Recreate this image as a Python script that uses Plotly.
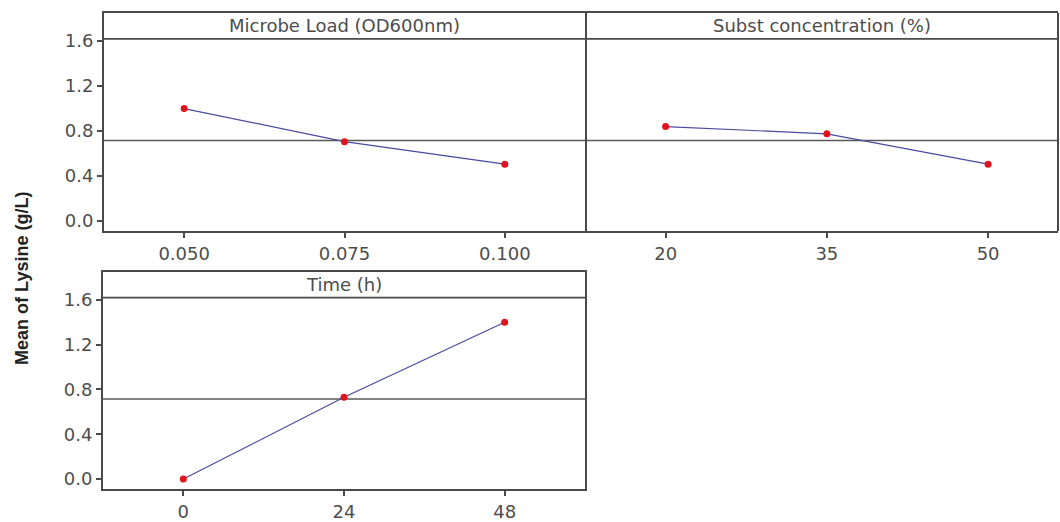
import plotly.graph_objects as go

# Main effects of three factors on mean lysine yield
microbe_levels = [0.050, 0.075, 0.100]
microbe_means = [1.00, 0.705, 0.505]

subst_levels = [20, 35, 50]
subst_means = [0.84, 0.775, 0.505]

time_levels = [0, 24, 48]
time_means = [0.0, 0.73, 1.40]

grand_mean = 0.715

panel_titles = ["Microbe Load (OD600nm)", "Subst concentration (%)", "Time (h)"]
y_ticks = [0.0, 0.4, 0.8, 1.2, 1.6]
y_tick_text = ["0.0", "0.4", "0.8", "1.2", "1.6"]

W, H = 1060, 522
LINE_COLOR = "#4a4aa0"
MARK_COLOR = "#e0141e"
FRAME = "#4a4a4a"
TEXT = "#4d4d4d"
FONT = "DejaVu Sans"
strip_y = 1.62
y_range = [-0.09, 1.85]


def px(x0, x1):
    return [x0 / W, x1 / W]


def py(top, bottom):
    return [1 - bottom / H, 1 - top / H]


panels = [
    dict(x=microbe_levels, y=microbe_means, xd=px(104, 585), yd=py(13, 232),
         xr=[0.0375, 0.1125], xt=microbe_levels, xl=["0.050", "0.075", "0.100"], ylab=True),
    dict(x=subst_levels, y=subst_means, xd=px(585, 1058), yd=py(13, 232),
         xr=[12.5, 56.5], xt=subst_levels, xl=["20", "35", "50"], ylab=False),
    dict(x=time_levels, y=time_means, xd=px(103, 585), yd=py(273, 491),
         xr=[-12, 60], xt=time_levels, xl=["0", "24", "48"], ylab=True),
]

fig = go.Figure()
layout = dict(
    width=W, height=H,
    margin=dict(l=0, r=0, t=0, b=0),
    paper_bgcolor="white", plot_bgcolor="white",
    showlegend=False,
    font=dict(family=FONT, color=TEXT, size=18),
)
shapes = []
annotations = []

for i, p in enumerate(panels, start=1):
    xa = "x" if i == 1 else f"x{i}"
    ya = "y" if i == 1 else f"y{i}"
    fig.add_trace(go.Scatter(
        x=p["x"], y=p["y"], xaxis=xa, yaxis=ya, mode="lines+markers",
        line=dict(color=LINE_COLOR, width=1.2),
        marker=dict(color=MARK_COLOR, size=7),
        cliponaxis=False,
    ))
    layout[f"xaxis{'' if i == 1 else i}"] = dict(
        domain=p["xd"], anchor=ya, range=p["xr"],
        tickmode="array", tickvals=p["xt"], ticktext=p["xl"],
        ticks="outside", ticklen=5, tickwidth=1.5, tickcolor=FRAME,
        showline=True, linecolor=FRAME, linewidth=2, mirror=True,
        showgrid=False, zeroline=False,
        tickfont=dict(size=18, color=TEXT, family=FONT),
    )
    # the right-hand panel shares its left edge with the panel beside it
    layout[f"yaxis{'' if i == 1 else i}"] = dict(
        domain=p["yd"], anchor=xa, range=y_range,
        tickmode="array", tickvals=y_ticks, ticktext=y_tick_text,
        ticks="outside" if p["ylab"] else "", ticklen=5, tickwidth=1.5, tickcolor=FRAME,
        showticklabels=p["ylab"],
        showline=p["ylab"], linecolor=FRAME, linewidth=2, mirror=True,
        showgrid=False, zeroline=False,
        tickfont=dict(size=18, color=TEXT, family=FONT),
    )
    if not p["ylab"]:
        shapes.append(dict(type="line", xref=f"{xa} domain", yref=f"{ya} domain",
                           x0=1, x1=1, y0=0, y1=1,
                           line=dict(color=FRAME, width=2)))
    # grand mean reference line
    shapes.append(dict(type="line", xref=f"{xa} domain", yref=ya,
                       x0=0, x1=1, y0=grand_mean, y1=grand_mean,
                       line=dict(color="#5a5a5a", width=1.5), layer="below"))
    # header strip divider
    shapes.append(dict(type="line", xref=f"{xa} domain", yref=ya,
                       x0=0, x1=1, y0=strip_y, y1=strip_y,
                       line=dict(color=FRAME, width=1.8)))
    annotations.append(dict(
        text=panel_titles[i - 1], xref=f"{xa} domain", yref=ya,
        x=0.5, y=(strip_y + y_range[1]) / 2, showarrow=False,
        xanchor="center", yanchor="middle",
        font=dict(size=18, color=TEXT, family=FONT),
    ))

annotations.append(dict(
    text="<b>Mean of Lysine (g/L)</b>", xref="paper", yref="paper",
    x=22 / W, y=1 - 280 / H, textangle=-90, showarrow=False,
    xanchor="center", yanchor="middle",
    font=dict(size=18, color="#222222", family="Liberation Sans"),
))

layout["shapes"] = shapes
layout["annotations"] = annotations
fig.update_layout(**layout)
fig.write_html("out.html")
